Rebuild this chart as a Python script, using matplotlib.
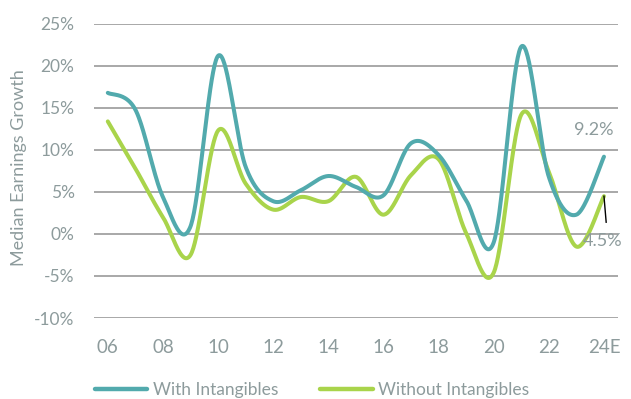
import matplotlib
matplotlib.use("Agg")
import matplotlib.pyplot as plt
import numpy as np

# Median earnings growth by year (%), 2024 is an estimate
years = np.arange(2006, 2025)
year_labels = ["06", "08", "10", "12", "14", "16", "18", "20", "22", "24E"]
with_intangibles = [16.8, 14.8, 4.4, 0.9, 21.2, 8.0, 3.9, 5.2, 6.9, 5.6,
                    4.6, 10.8, 9.4, 4.0, -1.0, 22.3, 6.8, 2.3, 9.2]
without_intangibles = [13.4, 7.8, 2.0, -2.5, 12.3, 6.0, 2.9, 4.4, 3.9, 6.8,
                       2.3, 7.0, 8.9, 0.1, -4.6, 14.2, 7.4, -1.5, 4.5]

TEAL = "#52aaad"
GREEN = "#a9d44b"
TXT = "#8d9b9c"
GRID = "#9a9a9a"


def smooth(x, y, n=40):
    # Catmull-Rom style bezier through every point (like a spreadsheet smoothed line)
    x = np.asarray(x, float)
    y = np.asarray(y, float)
    px = np.concatenate([[x[0]], x, [x[-1]]])
    py = np.concatenate([[y[0]], y, [y[-1]]])
    t = np.linspace(0, 1, n)
    xs, ys = [], []
    for i in range(1, len(px) - 2):
        x0, x3 = px[i], px[i + 1]
        y0, y3 = py[i], py[i + 1]
        x1 = x0 + (px[i + 1] - px[i - 1]) / 6
        y1 = y0 + (py[i + 1] - py[i - 1]) / 6
        x2 = x3 - (px[i + 2] - px[i]) / 6
        y2 = y3 - (py[i + 2] - py[i]) / 6
        b0 = (1 - t) ** 3
        b1 = 3 * (1 - t) ** 2 * t
        b2 = 3 * (1 - t) * t ** 2
        b3 = t ** 3
        xs.append(b0 * x0 + b1 * x1 + b2 * x2 + b3 * x3)
        ys.append(b0 * y0 + b1 * y1 + b2 * y2 + b3 * y3)
    return np.concatenate(xs), np.concatenate(ys)


plt.rcParams["font.family"] = ["Lato", "DejaVu Sans"]

fig = plt.figure(figsize=(6.31, 3.99), dpi=100)
ax = fig.add_axes([0.149, 0.203, 0.830, 0.737])

for v in np.arange(-10, 26, 5):
    ax.axhline(v, color=GRID, lw=1.2, zorder=1)

sx, sy = smooth(years, with_intangibles)
ax.plot(sx, sy, color=TEAL, lw=2.9, solid_capstyle="round", zorder=3,
        label="With Intangibles")
sx, sy = smooth(years, without_intangibles)
ax.plot(sx, sy, color=GREEN, lw=2.9, solid_capstyle="round", zorder=2,
        label="Without Intangibles")

# end-of-series value labels
ax.text(years[-1] + 0.35, 12.4, f"{with_intangibles[-1]}%", ha="right",
        va="center", fontsize=13, color=TXT, zorder=5)
ax.text(years[-1] - 0.76, -0.85, f"{without_intangibles[-1]}%", ha="left",
        va="center", fontsize=13, color=TXT, zorder=5)
ax.plot([years[-1], years[-1] + 0.08], [without_intangibles[-1], 1.4],
        color="black", lw=1, zorder=4)

ax.set_xlim(2005.5, 2024.5)
ax.set_ylim(-10, 25)
ax.set_yticks(np.arange(-10, 26, 5))
ax.set_yticklabels([f"{v}%" for v in range(-10, 26, 5)])
ax.set_xticks(years[::2])
ax.set_xticklabels(year_labels)
ax.tick_params(axis="y", length=0, pad=14, labelsize=12.5, labelcolor=TXT)
ax.tick_params(axis="x", length=0, pad=15, labelsize=13.5, labelcolor=TXT)
for s in ax.spines.values():
    s.set_visible(False)

fig.text(19 / 631, 1 - 168 / 399, "Median Earnings Growth", rotation=90,
         ha="center", va="center", fontsize=13, color=TXT)

leg = fig.legend(loc="lower left", bbox_to_anchor=(0.125, -0.036), ncol=2,
                 frameon=False, fontsize=12.5, handlelength=3.05,
                 handletextpad=0.3, columnspacing=2.4)
for t in leg.get_texts():
    t.set_color(TXT)
for h in leg.get_lines():
    h.set_linewidth(3.2)

fig.savefig("out.png", dpi=100)
